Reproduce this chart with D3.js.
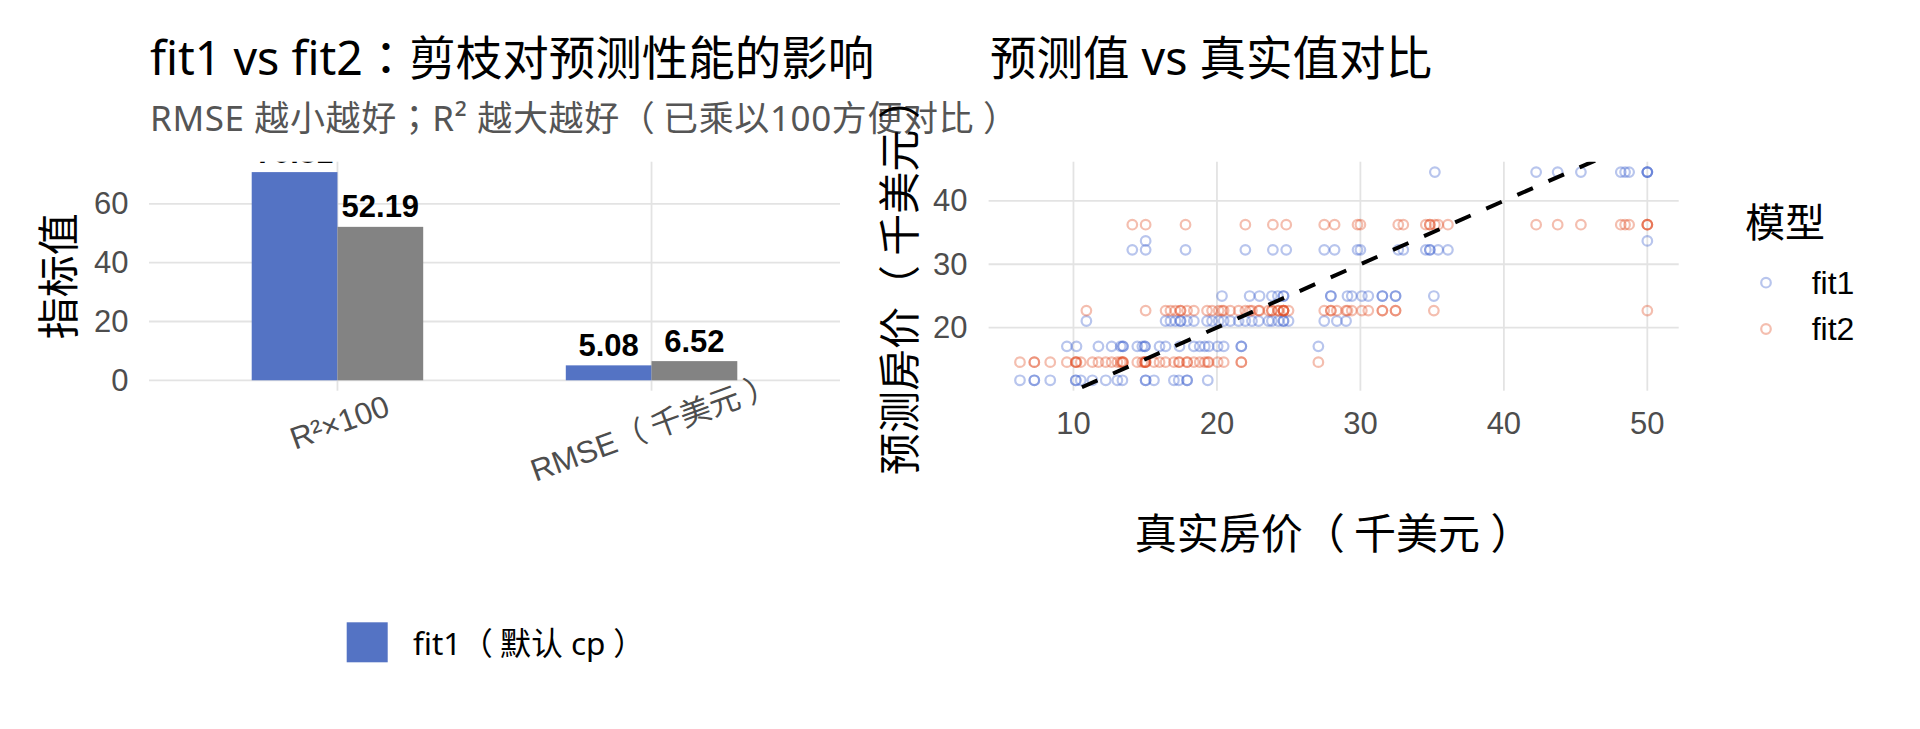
<!DOCTYPE html>
<html><head><meta charset="utf-8">
<script src="https://cdn.jsdelivr.net/npm/d3@7"></script>
<style>
html,body{margin:0;padding:0;background:#fff;}
svg{display:block;}
svg text{text-spacing-trim:space-all;}
</style></head><body>
<script>
// ---------------- DATA ----------------
const metricNames = ["R²×100", "RMSE（千美元）"];
const fit1Metrics = [70.81, 5.08];
const fit2Metrics = [52.19, 6.52];
const barYTicks = [0, 20, 40, 60];
const modelNames = ["fit1", "fit2"];
const barLegendLabel = "fit1（默认 cp）";

// test-set observations: actual price and the two model predictions
const actualValues = [
  6.27, 7.27, 7.27, 8.38, 10.16, 10.16, 10.51, 11.32, 12.25, 13.06, 13.41, 15.03, 15.03, 15.61, 17.0, 17.34, 17.92, 17.92, 19.36,
  9.54, 10.21, 11.74, 12.66, 13.29, 13.45, 13.45, 14.45, 14.8, 14.98, 14.98, 16.0, 16.42, 17.39, 18.39, 18.8, 19.15, 19.43, 20.05, 20.47, 21.7, 21.7, 27.07,
  10.9, 16.42, 16.76, 17.11, 17.46, 17.46, 17.92, 18.39, 19.31, 19.66, 20.12, 20.47, 20.93, 21.51, 21.98, 22.44, 22.9, 23.6, 23.83, 24.29, 24.64, 24.64, 24.99, 27.48, 28.36, 29.0,
  20.35, 22.28, 22.97, 23.83, 24.25, 24.64, 24.64, 27.94, 27.94, 29.1, 29.4, 30.1, 30.55, 31.53, 31.53, 32.45, 32.45, 35.12,
  15.03, 50.0,
  14.1, 15.03, 17.81, 21.98, 23.9, 24.83, 27.48, 28.2, 29.8, 30.0, 32.64, 32.99, 34.56, 34.84, 34.84, 35.42, 36.1,
  35.19, 42.25, 43.75, 45.37, 48.15, 48.45, 48.73, 50.0, 50.0, 50.0
];
const fit1Pred = [
  11.68, 11.68, 11.68, 11.68, 11.68, 11.68, 11.68, 11.68, 11.68, 11.68, 11.68, 11.68, 11.68, 11.68, 11.68, 11.68, 11.68, 11.68, 11.68,
  17.04, 17.04, 17.04, 17.04, 17.04, 17.04, 17.04, 17.04, 17.04, 17.04, 17.04, 17.04, 17.04, 17.04, 17.04, 17.04, 17.04, 17.04, 17.04, 17.04, 17.04, 17.04, 17.04,
  21.04, 21.04, 21.04, 21.04, 21.04, 21.04, 21.04, 21.04, 21.04, 21.04, 21.04, 21.04, 21.04, 21.04, 21.04, 21.04, 21.04, 21.04, 21.04, 21.04, 21.04, 21.04, 21.04, 21.04, 21.04, 21.04,
  24.98, 24.98, 24.98, 24.98, 24.98, 24.98, 24.98, 24.98, 24.98, 24.98, 24.98, 24.98, 24.98, 24.98, 24.98, 24.98, 24.98, 24.98,
  33.68, 33.68,
  32.27, 32.27, 32.27, 32.27, 32.27, 32.27, 32.27, 32.27, 32.27, 32.27, 32.27, 32.27, 32.27, 32.27, 32.27, 32.27, 32.27,
  44.54, 44.54, 44.54, 44.54, 44.54, 44.54, 44.54, 44.54, 44.54, 44.54
];
const fit2Pred = [
  14.54, 14.54, 14.54, 14.54, 14.54, 14.54, 14.54, 14.54, 14.54, 14.54, 14.54, 14.54, 14.54, 14.54, 14.54, 14.54, 14.54, 14.54, 14.54,
  14.54, 14.54, 14.54, 14.54, 14.54, 14.54, 14.54, 14.54, 14.54, 14.54, 14.54, 14.54, 14.54, 14.54, 14.54, 14.54, 14.54, 14.54, 14.54, 14.54, 14.54, 14.54, 14.54,
  22.68, 22.68, 22.68, 22.68, 22.68, 22.68, 22.68, 22.68, 22.68, 22.68, 22.68, 22.68, 22.68, 22.68, 22.68, 22.68, 22.68, 22.68, 22.68, 22.68, 22.68, 22.68, 22.68, 22.68, 22.68, 22.68,
  22.68, 22.68, 22.68, 22.68, 22.68, 22.68, 22.68, 22.68, 22.68, 22.68, 22.68, 22.68, 22.68, 22.68, 22.68, 22.68, 22.68, 22.68,
  22.68, 22.68,
  36.24, 36.24, 36.24, 36.24, 36.24, 36.24, 36.24, 36.24, 36.24, 36.24, 36.24, 36.24, 36.24, 36.24, 36.24, 36.24, 36.24,
  36.24, 36.24, 36.24, 36.24, 36.24, 36.24, 36.24, 36.24, 36.24, 36.24
];
const scatterXTicks = [10, 20, 30, 40, 50];
const scatterYTicks = [20, 30, 40];

// ---------------- STYLE / LAYOUT ----------------
const W = 1920, H = 729;
const fText = '"Noto Sans", "Noto Sans CJK TC", sans-serif';
const fTick = '"Liberation Sans", Arial, "Noto Sans CJK TC", sans-serif';
const barColors = {fit1: "#5473C4", fit2: "#838383"};
const ptColors = {fit1: "#3558CC", fit2: "#E0461A"};
const gridColor = "#E3E3E3";
const tickColor = "#4D4D4D";

const svg = d3.select("body").append("svg").attr("width", W).attr("height", H)
  .style("background", "#fff");
const defs = svg.append("defs");

// writes a string into a <text>, opening up space around the full-width brackets
function cjkText(sel, str, fs) {
  const parts = [];
  let pending = 0, buf = "";
  for (const ch of str) {
    if (ch === "（") {
      if (buf) { parts.push({t: buf, dx: pending}); buf = ""; }
      parts.push({t: ch, dx: 0});
      pending = 0.22;
    } else if (ch === "）") {
      if (buf) { parts.push({t: buf, dx: pending}); buf = ""; }
      parts.push({t: ch, dx: 0.25});
      pending = 0;
    } else buf += ch;
  }
  if (buf) parts.push({t: buf, dx: pending});
  parts.forEach(p => sel.append("tspan").attr("dx", (p.dx * fs).toFixed(2)).text(p.t));
  return sel;
}

// ---------- LEFT: bar chart ----------
const L = {x0: 149, x1: 840, y0: 161.7, y1: 390.7};
defs.append("clipPath").attr("id", "clipL").append("rect")
  .attr("x", L.x0).attr("y", L.y0).attr("width", L.x1 - L.x0).attr("height", L.y1 - L.y0);

const xCat = d3.scalePoint().domain(metricNames).range([L.x0, L.x1]).padding(0.6);
const step = xCat.step();
const barW = 0.273 * step;
const barMax = d3.max(fit1Metrics.concat(fit2Metrics));
const yBar = d3.scaleLinear().domain([-0.05 * barMax, barMax * 1.05]).range([L.y1, L.y0]);

const gL = svg.append("g");
gL.selectAll(".hg").data(barYTicks).join("line")
  .attr("x1", L.x0).attr("x2", L.x1)
  .attr("y1", d => yBar(d)).attr("y2", d => yBar(d))
  .attr("stroke", gridColor).attr("stroke-width", 1.8);
gL.selectAll(".vg").data(metricNames).join("line")
  .attr("x1", d => xCat(d)).attr("x2", d => xCat(d))
  .attr("y1", L.y0).attr("y2", L.y1)
  .attr("stroke", gridColor).attr("stroke-width", 1.8);

const barData = [];
metricNames.forEach((m, i) => {
  barData.push({m, model: "fit1", v: fit1Metrics[i], off: -1});
  barData.push({m, model: "fit2", v: fit2Metrics[i], off: 0});
});
const gBars = gL.append("g").attr("clip-path", "url(#clipL)");
gBars.selectAll("rect").data(barData).join("rect")
  .attr("x", d => xCat(d.m) + d.off * barW)
  .attr("width", barW)
  .attr("y", d => yBar(d.v))
  .attr("height", d => yBar(0) - yBar(d.v))
  .attr("fill", d => barColors[d.model]);
gBars.selectAll("text").data(barData).join("text")
  .attr("x", d => xCat(d.m) + d.off * barW + barW / 2)
  .attr("y", d => yBar(d.v) - 9.5)
  .attr("text-anchor", "middle")
  .attr("font-family", fTick).attr("font-weight", "bold").attr("font-size", 31)
  .attr("fill", "#000")
  .text(d => d.v.toFixed(2));

gL.selectAll(".yt").data(barYTicks).join("text")
  .attr("x", 128.5).attr("y", d => yBar(d))
  .attr("text-anchor", "end").attr("dominant-baseline", "central")
  .attr("font-family", fTick).attr("font-size", 31).attr("fill", tickColor)
  .text(d => d);
gL.selectAll(".xt").data(metricNames).join("text")
  .attr("transform", (d, i) => `translate(${xCat(d) + 2},${i === 0 ? 422 : 427}) rotate(-20)`)
  .attr("text-anchor", "middle").attr("dominant-baseline", "central")
  .attr("font-family", fTick).attr("font-size", 31).attr("fill", tickColor)
  .each(function (d) { cjkText(d3.select(this), d, 31); });
gL.append("text")
  .attr("transform", `translate(57,${(L.y0 + L.y1) / 2}) rotate(-90)`)
  .attr("text-anchor", "middle").attr("dominant-baseline", "central")
  .attr("font-family", fText).attr("font-size", 42).attr("fill", "#000")
  .text("指标值");

// titles
svg.append("text").attr("x", 150).attr("y", 75)
  .attr("font-family", fText).attr("font-size", 46.5).attr("fill", "#000")
  .text("fit1 vs fit2：剪枝对预测性能的影响");
const st = svg.append("text").attr("x", 150).attr("y", 131)
  .attr("font-family", fText).attr("font-size", 35).attr("fill", "#555")
  .attr("textLength", 868).attr("lengthAdjust", "spacing");
cjkText(st, "RMSE 越小越好；R² 越大越好（已乘以100方便对比）", 35);

// bottom legend (only the fit1 key is visible)
svg.append("rect").attr("x", 346.7).attr("y", 622.3).attr("width", 41).attr("height", 40)
  .attr("fill", barColors.fit1);
cjkText(svg.append("text").attr("x", 413).attr("y", 642.3).attr("dominant-baseline", "central")
  .attr("font-family", fText).attr("font-size", 31.5).attr("fill", "#000"), barLegendLabel, 31.5);

// ---------- RIGHT: scatter ----------
const R = {x0: 988.6, x1: 1678.7, y0: 161.7, y1: 390.7};
defs.append("clipPath").attr("id", "clipR").append("rect")
  .attr("x", R.x0).attr("y", R.y0).attr("width", R.x1 - R.x0).attr("height", R.y1 - R.y0);

const xExt = d3.extent(actualValues);
const yExt = d3.extent(fit1Pred.concat(fit2Pred));
const xPad = 0.05 * (xExt[1] - xExt[0]), yPad = 0.05 * (yExt[1] - yExt[0]);
const xS = d3.scaleLinear().domain([xExt[0] - xPad, xExt[1] + xPad]).range([R.x0, R.x1]);
const yS = d3.scaleLinear().domain([yExt[0] - yPad, yExt[1] + yPad]).range([R.y1, R.y0]);

const gR = svg.append("g");
gR.selectAll(".hg").data(scatterYTicks).join("line")
  .attr("x1", R.x0).attr("x2", R.x1)
  .attr("y1", d => yS(d)).attr("y2", d => yS(d))
  .attr("stroke", gridColor).attr("stroke-width", 1.8);
gR.selectAll(".vg").data(scatterXTicks).join("line")
  .attr("x1", d => xS(d)).attr("x2", d => xS(d))
  .attr("y1", R.y0).attr("y2", R.y1)
  .attr("stroke", gridColor).attr("stroke-width", 1.8);

const pts = [];
actualValues.forEach((a, i) => pts.push({x: a, y: fit1Pred[i], model: "fit1"}));
actualValues.forEach((a, i) => pts.push({x: a, y: fit2Pred[i], model: "fit2"}));
const gPts = gR.append("g").attr("clip-path", "url(#clipR)");
gPts.selectAll("circle").data(pts).join("circle")
  .attr("cx", d => xS(d.x)).attr("cy", d => yS(d.y)).attr("r", 4.8)
  .attr("fill", "none").attr("stroke", d => ptColors[d.model])
  .attr("stroke-opacity", 0.35).attr("stroke-width", 2.2);

const dom = xS.domain();
gPts.append("line")
  .attr("x1", xS(dom[0])).attr("y1", yS(dom[0]))
  .attr("x2", xS(dom[1])).attr("y2", yS(dom[1]))
  .attr("stroke", "#000").attr("stroke-width", 4)
  .attr("stroke-dasharray", "17 17");

gR.selectAll(".yt").data(scatterYTicks).join("text")
  .attr("x", 967.6).attr("y", d => yS(d))
  .attr("text-anchor", "end").attr("dominant-baseline", "central")
  .attr("font-family", fTick).attr("font-size", 31).attr("fill", tickColor)
  .text(d => d);
gR.selectAll(".xt").data(scatterXTicks).join("text")
  .attr("x", d => xS(d)).attr("y", 434)
  .attr("text-anchor", "middle")
  .attr("font-family", fTick).attr("font-size", 31).attr("fill", tickColor)
  .text(d => d);
cjkText(gR.append("text")
  .attr("transform", `translate(898,${(R.y0 + R.y1) / 2}) rotate(-90)`)
  .attr("text-anchor", "middle").attr("dominant-baseline", "central")
  .attr("font-family", fText).attr("font-size", 42).attr("fill", "#000"), "预测房价（千美元）", 42);
cjkText(gR.append("text")
  .attr("x", (R.x0 + R.x1) / 2).attr("y", 532)
  .attr("text-anchor", "middle").attr("dominant-baseline", "central")
  .attr("font-family", fText).attr("font-size", 42).attr("fill", "#000"), "真实房价（千美元）", 42);
svg.append("text").attr("x", 990).attr("y", 75)
  .attr("font-family", fText).attr("font-size", 46.5).attr("fill", "#000")
  .text("预测值 vs 真实值对比");

// legend
svg.append("text").attr("x", 1745).attr("y", 236.7)
  .attr("font-family", fText).attr("font-size", 40).attr("fill", "#000")
  .text("模型");
const lg = svg.append("g");
modelNames.forEach((m, i) => {
  const cy = 282.7 + i * 46.3;
  lg.append("circle").attr("cx", 1766).attr("cy", cy).attr("r", 4.8)
    .attr("fill", "none").attr("stroke", ptColors[m])
    .attr("stroke-opacity", 0.35).attr("stroke-width", 2.2);
  lg.append("text").attr("x", 1811.7).attr("y", cy).attr("dominant-baseline", "central")
    .attr("font-family", fTick).attr("font-size", 32).attr("fill", "#000")
    .text(m);
});
</script>
</body></html>
